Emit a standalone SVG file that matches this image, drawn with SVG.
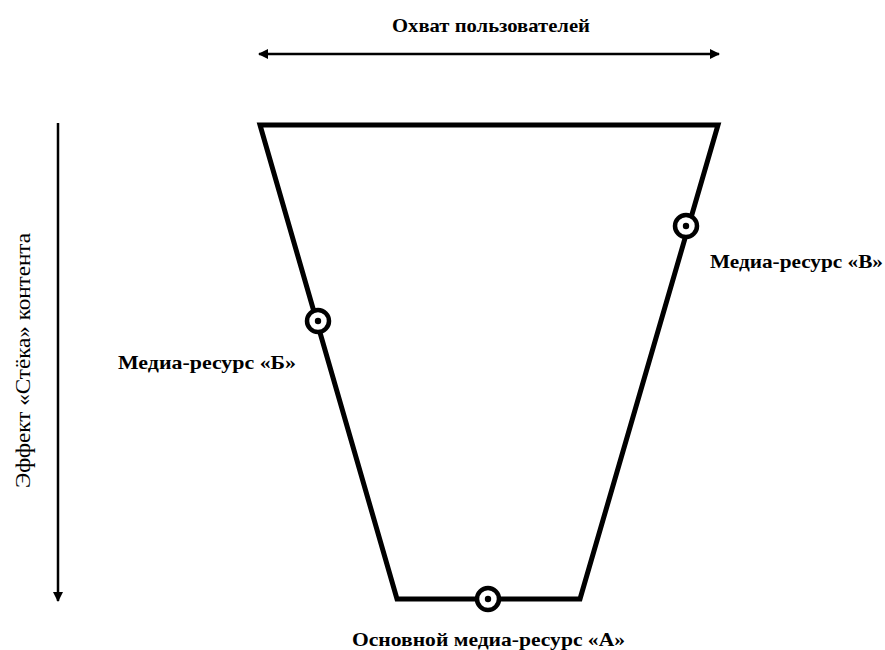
<svg xmlns="http://www.w3.org/2000/svg" width="885" height="650" viewBox="0 0 885 650">
<style>
.lbl{font-family:"Liberation Serif","Times New Roman",serif;font-weight:bold;font-size:19px;fill:#000}
.vl{font-family:"Liberation Serif","Times New Roman",serif;font-size:20px;fill:#000}
.ax{stroke:#000;stroke-width:2.5;fill:none}
.node{fill:#fff;stroke:#000;stroke-width:4.5}
.dot{fill:#000}
</style>
<defs>
<marker id="ah" viewBox="0 0 10 10" refX="9" refY="5" markerWidth="4" markerHeight="4" orient="auto-start-reverse" markerUnits="strokeWidth">
<path d="M0,0 L10,5 L0,10 z" fill="#000"/>
</marker>
</defs>
<rect width="885" height="650" fill="#fff"/>
<g id="axes">
<line class="ax" x1="259" y1="54" x2="719" y2="54" marker-start="url(#ah)" marker-end="url(#ah)"/>
<text class="lbl" x="392" y="32" textLength="198" lengthAdjust="spacingAndGlyphs">Охват пользователей</text>
<line class="ax" x1="58" y1="123" x2="58" y2="601" marker-end="url(#ah)"/>
<text class="vl" transform="translate(30,488) rotate(-90)" textLength="255" lengthAdjust="spacingAndGlyphs">Эффект «Стёка» контента</text>
</g>
<g id="connectors">
<path d="M260,125 L718,125 L580,599 L397,599 Z" fill="none" stroke="#000" stroke-width="5" stroke-linejoin="miter"/>
</g>
<g id="node-b">
<circle class="node" cx="318" cy="321" r="11"/>
<circle class="dot" cx="318" cy="321" r="3.2"/>
<text class="lbl" x="118" y="369" textLength="178" lengthAdjust="spacingAndGlyphs">Медиа-ресурс «Б»</text>
</g>
<g id="node-v">
<circle class="node" cx="686" cy="226" r="11"/>
<circle class="dot" cx="686" cy="226" r="3.2"/>
<text class="lbl" x="710" y="268" textLength="173" lengthAdjust="spacingAndGlyphs">Медиа-ресурс «В»</text>
</g>
<g id="node-a">
<circle class="node" cx="488" cy="599" r="11"/>
<circle class="dot" cx="488" cy="599" r="3.2"/>
<text class="lbl" x="352" y="646" textLength="273" lengthAdjust="spacingAndGlyphs">Основной медиа-ресурс «А»</text>
</g>
</svg>
